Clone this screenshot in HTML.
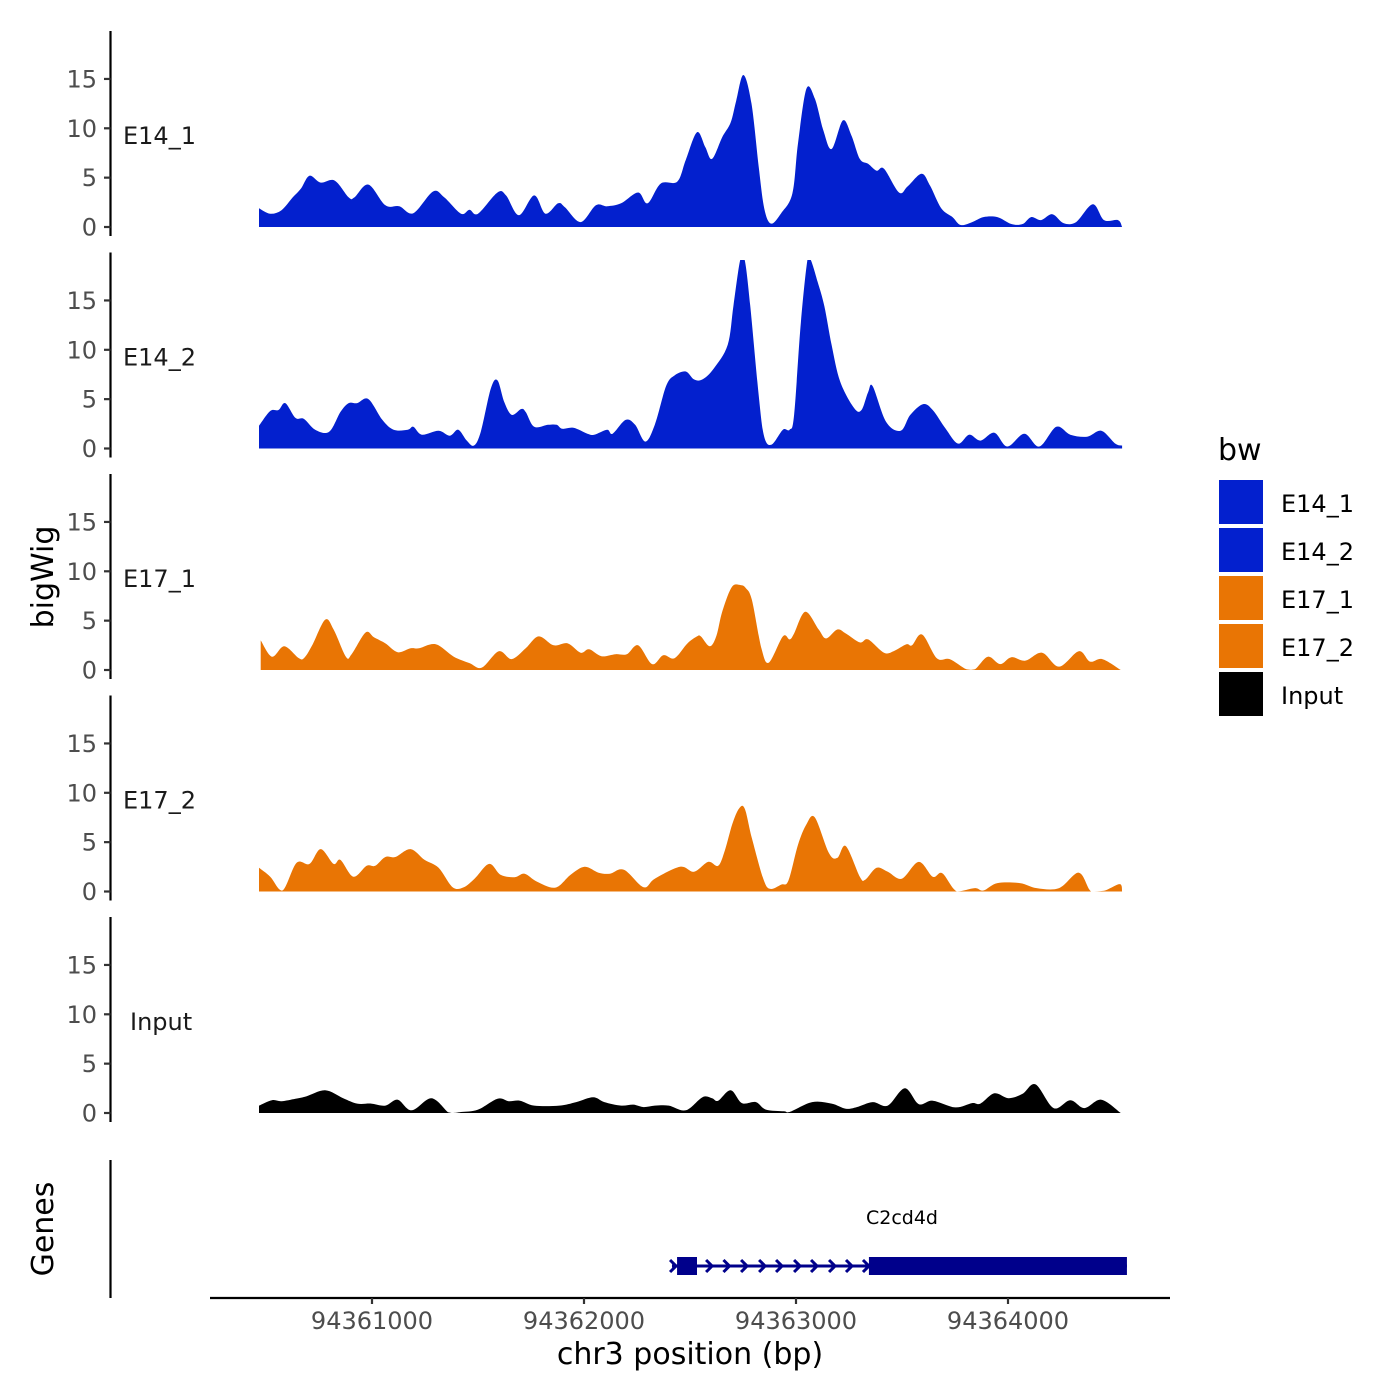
<!DOCTYPE html>
<html><head><meta charset="utf-8"><style>
html,body{margin:0;padding:0;background:#fff;}
svg{display:block;font-family:"DejaVu Sans","Liberation Sans",sans-serif;}
</style></head><body>
<svg id="chart" width="1400" height="1400" viewBox="0 0 1400 1400" xmlns="http://www.w3.org/2000/svg">
<rect x="0" y="0" width="1400" height="1400" fill="#fff"/>
<g id="tracks"></g>
<g id="genes"></g>
<g id="axes"></g>
<text x="0" y="0" transform="translate(53,577) rotate(-90)" text-anchor="middle" font-size="30" fill="#000">bigWig</text>
<text x="0" y="0" transform="translate(53,1229) rotate(-90)" text-anchor="middle" font-size="30" fill="#000">Genes</text>
<text x="690" y="1364" text-anchor="middle" font-size="30" fill="#000">chr3 position (bp)</text>
<g id="legend">
<text x="1218" y="460" font-size="30" fill="#000">bw</text>
</g>
</svg>
<script>
const START = 94360000;
const trackNames = ["E14_1","E14_2","E17_1","E17_2","Input"];
const trackColors = ["#0320CE","#0320CE","#E97504","#E97504","#000000"];
const yTicks = [0,5,10,15];
const xTicks = [94361000,94362000,94363000,94364000];
const xTickLabels = ["94361000","94362000","94363000","94364000"];

const pos1 = [467,520,573,626,665,705,758,824,890,917,983,1063,1129,1195,1288,1341,1420,1460,1500,1592,1632,1693,1765,1818,1878,1910,1984,2056,2109,2175,2255,2300,2362,2440,2480,2533,2572,2604,2652,2692,2718,2752,2790,2824,2850,2882,2930,2983,3009,3049,3089,3129,3168,3221,3261,3301,3340,3380,3415,3486,3526,3592,3632,3685,3738,3777,3831,3884,3950,4016,4069,4109,4156,4209,4262,4321,4400,4453,4519,4538];
const val1 = [1.9,1.35,1.7,3.0,3.9,5.2,4.5,4.7,3.0,3.0,4.3,2.2,2.1,1.4,3.6,3.0,1.35,1.75,1.35,3.5,3.2,1.2,3.2,1.35,2.4,2.0,0.5,2.2,2.1,2.4,3.5,2.4,4.4,4.6,6.8,9.6,8.1,6.9,9.1,10.6,12.8,15.4,12.5,6.1,1.9,0.34,1.4,3.4,8.4,14.0,13.0,9.8,7.9,10.8,9.3,6.9,6.4,5.7,5.9,3.5,4.1,5.4,4.2,1.9,1.0,0.2,0.5,1.0,1.0,0.3,0.3,1.0,0.7,1.3,0.4,0.5,2.3,0.7,0.7,0];

const pos2 = [467,520,559,591,639,679,732,798,851,890,930,983,1049,1102,1169,1195,1235,1314,1367,1407,1447,1481,1513,1561,1592,1624,1659,1704,1725,1765,1831,1871,1897,1950,2016,2048,2109,2135,2196,2241,2289,2334,2387,2427,2480,2519,2559,2612,2678,2705,2737,2758,2784,2824,2850,2885,2938,2970,2991,3023,3054,3070,3102,3134,3168,3208,3274,3309,3340,3362,3425,3494,3539,3600,3645,3706,3764,3817,3870,3936,3997,4077,4148,4228,4294,4373,4440,4506,4538];
const val2 = [2.3,3.8,3.9,4.6,3.1,3.0,1.9,1.7,3.7,4.6,4.6,5.0,2.9,1.9,1.9,2.2,1.4,1.8,1.3,1.9,0.8,0.3,1.7,6.1,6.9,4.7,3.4,4.0,3.7,2.2,2.4,2.4,2.0,2.1,1.5,1.4,1.9,1.5,2.9,2.4,0.7,2.4,6.3,7.4,7.8,7.0,7.0,8.1,10.5,14.5,20,20,14.5,5.4,1.2,0.4,1.9,1.9,3.4,12.8,20,20,16.9,14.4,10.5,6.8,4.1,3.9,5.7,6.3,2.7,1.8,3.4,4.5,3.9,2.0,0.5,1.4,0.8,1.6,0.2,1.5,0.2,2.2,1.4,1.2,1.8,0.5,0.3];

const pos3 = [475,528,586,652,679,718,779,819,877,904,970,1010,1063,1121,1182,1222,1301,1386,1460,1518,1598,1659,1725,1786,1857,1923,1984,2024,2082,2149,2202,2255,2321,2374,2427,2488,2533,2551,2594,2625,2652,2697,2739,2763,2792,2837,2872,2938,2970,2991,3044,3107,3142,3195,3235,3301,3340,3415,3460,3521,3547,3595,3664,3725,3804,3844,3905,3963,4016,4082,4161,4241,4334,4387,4445,4532];
const val3 = [3.0,1.35,2.4,1.25,1.2,2.5,5.1,4.1,1.35,1.6,3.8,3.3,2.7,1.8,2.2,2.2,2.6,1.35,0.7,0.24,1.9,1.1,2.2,3.4,2.5,2.7,1.75,2.1,1.4,1.6,1.6,2.5,0.6,1.5,1.2,2.7,3.4,3.4,2.4,3.5,5.9,8.4,8.6,8.3,7.1,2.2,0.75,3.4,3.1,3.7,5.9,4.1,3.2,4.1,3.7,2.8,3.1,1.75,1.9,2.6,2.5,3.6,1.2,1.1,0.07,0.07,1.35,0.6,1.3,0.95,1.75,0.34,1.9,0.85,1.1,0];

const pos4 = [467,520,578,644,705,758,819,851,912,975,1015,1063,1110,1182,1248,1314,1380,1433,1486,1553,1606,1672,1720,1778,1865,1937,2003,2069,2122,2188,2281,2334,2453,2519,2586,2633,2665,2699,2731,2758,2792,2845,2877,2930,2964,3009,3049,3089,3155,3195,3235,3301,3327,3380,3433,3499,3579,3645,3690,3759,3844,3884,3950,4056,4135,4241,4334,4392,4453,4527,4538];
const val4 = [2.4,1.5,0.1,2.9,2.8,4.3,2.8,3.2,1.5,2.6,2.6,3.5,3.5,4.3,3.2,2.4,0.44,0.44,1.35,2.8,1.7,1.45,1.8,1.0,0.4,1.7,2.5,1.9,1.8,2.2,0.44,1.3,2.5,2.0,3.0,2.6,4.2,6.8,8.4,8.4,5.4,1.35,0.27,0.7,1.1,4.7,6.8,7.5,3.9,3.4,4.6,1.5,1.2,2.4,2.0,1.3,3.0,1.5,1.85,0,0.34,0.1,0.85,0.85,0.34,0.34,1.9,0,0.07,0.75,0];

const pos5 = [467,528,573,639,692,779,864,930,996,1063,1121,1187,1280,1359,1380,1420,1500,1592,1645,1698,1765,1884,1963,2043,2096,2175,2233,2281,2334,2400,2480,2559,2604,2633,2692,2745,2811,2858,2943,2970,3076,3168,3235,3287,3362,3433,3513,3579,3645,3751,3830,3870,3936,4003,4069,4130,4215,4294,4360,4440,4532];
const val5 = [0.75,1.3,1.2,1.45,1.7,2.3,1.5,0.95,0.95,0.75,1.35,0.27,1.5,0.07,0,0.1,0.34,1.45,1.2,1.25,0.75,0.75,1.1,1.6,1.1,0.75,0.85,0.6,0.75,0.75,0.27,1.6,1.5,1.25,2.3,1.0,1.1,0.34,0.17,0.1,1.1,0.95,0.44,0.6,1.1,0.75,2.5,0.9,1.25,0.57,1.0,0.95,2.0,1.5,1.95,2.9,0.5,1.3,0.5,1.35,0];

const geneName = "C2cd4d";
const geneStart = 94362415;
const geneEnd = 94364561;
const exonStarts = [94362439, 94363344];
const exonEnds = [94362533, 94364561];
const arrowPositions = [94362420,94362590,94362672,94362755,94362840,94362920,94363005,94363085,94363170,94363250,94363330];

const positions = [pos1,pos2,pos3,pos4,pos5];
const values = [val1,val2,val3,val4,val5];

const NS = "http://www.w3.org/2000/svg";
function xScale(bp){ return 372 + (bp - 94361000) * 0.212; }
const baseY = [227,448.5,670,891.5,1113];
const PXU = 9.87;
const YMAX = 19.1;
function yScale(i, v){ return baseY[i] - Math.min(v, YMAX) * PXU; }
function mk(tag, attrs, parent){
  const e = document.createElementNS(NS, tag);
  for (const k in attrs) e.setAttribute(k, attrs[k]);
  parent.appendChild(e);
  return e;
}
const tracks = document.getElementById('tracks');
const axes = document.getElementById('axes');
const legend = document.getElementById('legend');

for (let i = 0; i < trackNames.length; i++) {
  const p = positions[i], v = values[i];
  const pts = p.map((q, j) => [xScale(START + q), yScale(i, v[j])]);
  let d = "M" + pts[0][0].toFixed(1) + "," + baseY[i] + " L" + pts[0][0].toFixed(1) + "," + pts[0][1].toFixed(1);
  for (let j = 0; j < pts.length - 1; j++) {
    const p0 = pts[Math.max(j-1,0)], p1 = pts[j], p2 = pts[j+1], p3 = pts[Math.min(j+2,pts.length-1)];
    const c1x = p1[0] + (p2[0]-p0[0])/6, c1y = Math.min(baseY[i], Math.max(baseY[i]-YMAX*PXU, p1[1] + (p2[1]-p0[1])/6));
    const c2x = p2[0] - (p3[0]-p1[0])/6, c2y = Math.min(baseY[i], Math.max(baseY[i]-YMAX*PXU, p2[1] - (p3[1]-p1[1])/6));
    d += ` C${c1x.toFixed(1)},${c1y.toFixed(1)} ${c2x.toFixed(1)},${c2y.toFixed(1)} ${p2[0].toFixed(1)},${p2[1].toFixed(1)}`;
  }
  d += " L" + pts[pts.length-1][0].toFixed(1) + "," + baseY[i] + " Z";
  const area = mk('path', {d: d, fill: trackColors[i]}, tracks);
  
  

  const ax = mk('line', {x1:110.5, x2:110.5, y1: baseY[i]-196, y2: baseY[i]+9, stroke:'#000', 'stroke-width':2.2}, axes);
  
  
  for (const t of yTicks) {
    const y = yScale(i, t);
    const tk = mk('line', {x1:104, x2:110.5, y1:y, y2:y, stroke:'#333', 'stroke-width':2.2}, axes);
    
    
    const tl = mk('text', {x:97, y:y+8.5, 'text-anchor':'end', 'font-size':24, fill:'#4d4d4d'}, axes);
    tl.textContent = String(t);
    
    
  }
  const lab = mk('text', {x: trackNames[i]==='Input' ? 130 : 123, y: baseY[i]-83, 'font-size':24, fill:'#1a1a1a'}, tracks);
  lab.textContent = trackNames[i];
  
  

  const key = mk('rect', {x:1219, y:480 + i*48, width:44, height:44, fill: trackColors[i]}, legend);
  
  
  const kl = mk('text', {x:1281, y:512 + i*48, 'font-size':24, fill:'#000'}, legend);
  kl.textContent = trackNames[i];
  
  
}

// genes panel
const genes = document.getElementById('genes');
const gy = 1266;
const gAx = mk('line', {x1:110.5, x2:110.5, y1:1160, y2:1298, stroke:'#000', 'stroke-width':2.2}, axes);


const intron = mk('line', {x1:xScale(geneStart), x2:xScale(geneEnd), y1:gy, y2:gy, stroke:'#00008B', 'stroke-width':3}, genes);


for (const a of arrowPositions) {
  const x = xScale(a);
  const ar = mk('path', {d:`M${x-3},${gy-6} L${x+3},${gy} L${x-3},${gy+6}`, fill:'none', stroke:'#00008B', 'stroke-width':3}, genes);
  
  
}
for (let k = 0; k < exonStarts.length; k++) {
  const x1 = xScale(exonStarts[k]), x2 = xScale(exonEnds[k]);
  const ex = mk('rect', {x:x1, y:gy-9, width:x2-x1, height:18, fill:'#00008B'}, genes);
  
  
}
const gl = mk('text', {x:902, y:1224, 'text-anchor':'middle', 'font-size':19, fill:'#000'}, genes);
gl.textContent = geneName;



// x axis
const xa = mk('line', {x1:210, x2:1170, y1:1298, y2:1298, stroke:'#000', 'stroke-width':2.2}, axes);


for (let k = 0; k < xTicks.length; k++) {
  const x = xScale(xTicks[k]);
  const tk = mk('line', {x1:x, x2:x, y1:1298, y2:1304, stroke:'#333', 'stroke-width':2.2}, axes);
  
  
  const tl = mk('text', {x:x, y:1329, 'text-anchor':'middle', 'font-size':24, fill:'#4d4d4d'}, axes);
  tl.textContent = xTickLabels[k];
  
  
}
</script>
</body></html>
